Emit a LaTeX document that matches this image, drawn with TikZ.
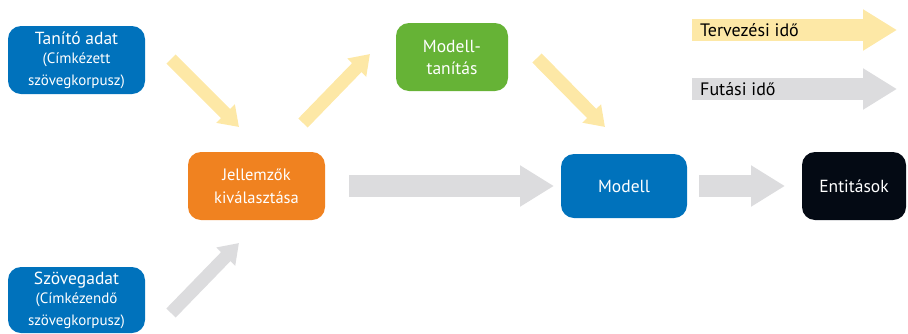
\documentclass[tikz,border=0pt]{standalone}
\usepackage{fontspec}
\setmainfont{PT Sans}
\usetikzlibrary{arrows.meta}
\definecolor{cblue}{RGB}{0,114,188}
\definecolor{corange}{RGB}{240,130,32}
\definecolor{cgreen}{RGB}{102,179,54}
\definecolor{cblack}{RGB}{4,10,20}
\definecolor{cyellow}{RGB}{253,232,166}
\definecolor{cgray}{RGB}{220,220,222}
\newcommand{\smalltxt}{\fontsize{15}{18}\selectfont}
\begin{document}
\begin{tikzpicture}[x=1pt,y=-1pt,
  box/.style={rounded corners=13pt, text=white, align=center, inner sep=0pt,
    minimum height=68pt, font=\fontsize{17.5}{22}\selectfont},
  harrow/.style={draw=cgray, line width=22pt, -{Triangle[length=34pt,width=39pt]}},
  yarrow/.style={draw=cyellow, line width=13pt, -{Triangle[length=19pt,width=25pt]}},
  garrow/.style={draw=cgray, line width=13pt, -{Triangle[length=19pt,width=25pt]}},
  legtext/.style={anchor=west, inner sep=0pt, text=black, font=\fontsize{18}{20}\selectfont}
]
\useasboundingbox (0,0) rectangle (908,333);

% nodes
\node[box, fill=cblue, minimum width=137pt] (tanito) at (76.5,60)
  {Tanító adat\\[-3pt]\smalltxt (Címkézett\\\smalltxt szövegkorpusz)};
\node[box, fill=cblue, minimum width=137pt, minimum height=66pt] (szoveg) at (76.5,300)
  {Szövegadat\\[-3pt]\smalltxt (Címkézendő\\\smalltxt szövegkorpusz)};
\node[box, fill=corange, minimum width=137pt, font=\fontsize{16.5}{23}\selectfont] (jell) at (256.5,186)
  {Jellemzők\\kiválasztása};
\node[box, fill=cgreen, minimum width=112pt] (mtan) at (452,57)
  {Modell-\\tanítás};
\node[box, fill=cblue, minimum width=126pt, minimum height=64pt] (modell) at (624,186)
  {Modell};
\node[box, fill=cblack, minimum width=104pt] (ent) at (854,186)
  {Entitások};

% arrow end points
\coordinate (a1s) at (171,59);  \coordinate (a1e) at (239,127);
\coordinate (a2s) at (303,123); \coordinate (a2e) at (370,54);
\coordinate (a3s) at (537,58);  \coordinate (a3e) at (605,127);
\coordinate (a4s) at (171,313); \coordinate (a4e) at (239,243);
\coordinate (a5s) at (349,186); \coordinate (a5e) at (554,186);
\coordinate (a6s) at (699,186); \coordinate (a6e) at (785,186);

\draw[yarrow] (a1s) -- (a1e);
\draw[yarrow] (a2s) -- (a2e);
\draw[yarrow] (a3s) -- (a3e);
\draw[garrow] (a4s) -- (a4e);
\draw[harrow] (a5s) -- (a5e);
\draw[harrow] (a6s) -- (a6e);

% legend
\coordinate (l1s) at (692,30); \coordinate (l1e) at (897,30);
\coordinate (l2s) at (692,89); \coordinate (l2e) at (897,89);
\draw[harrow, draw=cyellow] (l1s) -- (l1e);
\draw[harrow] (l2s) -- (l2e);
\node[legtext] (lt1) at (700,30) {Tervezési idő};
\node[legtext] (lt2) at (700,89) {Futási idő};
\end{tikzpicture}
\end{document}
